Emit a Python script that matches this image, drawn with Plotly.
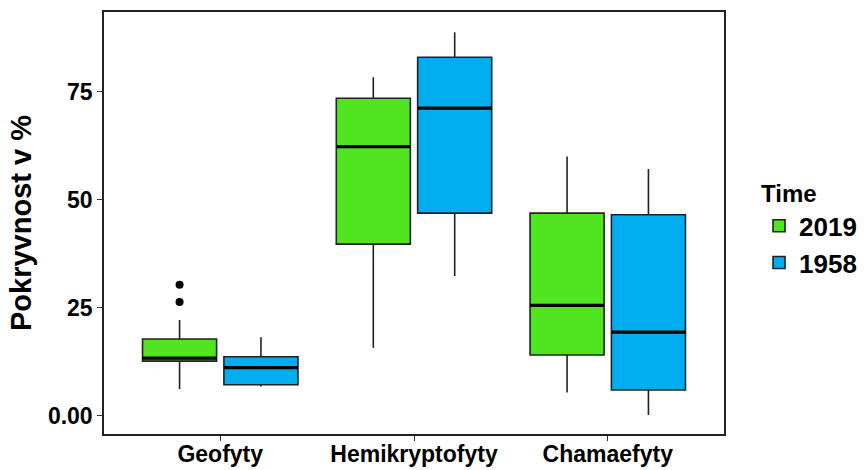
import plotly.graph_objects as go

categories = ["Geofyty", "Hemikryptofyty", "Chamaefyty"]
years = ["2019", "1958"]

# box statistics: [Geofyty, Hemikryptofyty, Chamaefyty]
lower_2019 = [6.1, 15.7, 5.3]
q1_2019 = [12.6, 39.7, 14.0]
median_2019 = [13.3, 62.3, 25.5]
q3_2019 = [17.7, 73.5, 46.9]
upper_2019 = [22.1, 78.4, 60.0]

lower_1958 = [6.7, 32.3, 0.1]
q1_1958 = [7.1, 46.9, 5.9]
median_1958 = [11.1, 71.2, 19.3]
q3_1958 = [13.6, 83.0, 46.5]
upper_1958 = [18.1, 88.8, 57.1]

outlier_cat = ["Geofyty", "Geofyty"]
outlier_vals = [30.3, 26.3]

ytick_vals = [0, 25, 50, 75]
ytick_text = ["0.00", "25", "50", "75"]

colors = {"2019": "#4FE51F", "1958": "#00AEEF"}

BOXGAP = 0.16
BOXGROUPGAP = 0.09

pos = list(range(len(categories)))
FONT = "Liberation Sans, Arial, sans-serif"

fig = go.Figure()
stats = {
    "2019": (lower_2019, q1_2019, median_2019, q3_2019, upper_2019),
    "1958": (lower_1958, q1_1958, median_1958, q3_1958, upper_1958),
}
for yr in years:
    lo, q1, md, q3, up = stats[yr]
    fig.add_trace(go.Box(
        name=yr, x=pos, lowerfence=lo, q1=q1, median=md, q3=q3, upperfence=up,
        fillcolor=colors[yr], line=dict(color="#222222", width=1.6),
        whiskerwidth=0, boxpoints=False, hoverinfo="skip",
        offsetgroup=yr, legendgroup=yr,
    ))
# thicker median lines drawn over the boxes
for yr in years:
    md = stats[yr][2]
    fig.add_trace(go.Box(
        name=yr, x=pos, lowerfence=md, q1=md, median=md, q3=md, upperfence=md,
        fillcolor="rgba(0,0,0,0)", line=dict(color="black", width=3.2),
        whiskerwidth=0, boxpoints=False, hoverinfo="skip",
        offsetgroup=yr, legendgroup=yr, showlegend=False,
    ))

# outliers of the 2019 series, placed at the dodged position of the first box
slot = (1 - BOXGAP) / len(years)
offset = -slot / 2
ox = [categories.index(c) + offset for c in outlier_cat]
fig.add_trace(go.Scatter(
    x=ox, y=outlier_vals, mode="markers", showlegend=False,
    marker=dict(color="black", size=8),
))

fig.update_layout(
    width=864, height=470,
    margin=dict(l=104, r=140, t=12, b=36, autoexpand=False),
    paper_bgcolor="white", plot_bgcolor="white",
    boxmode="group", boxgap=BOXGAP, boxgroupgap=BOXGROUPGAP,
    font=dict(family=FONT, color="black", size=22, weight="bold"),
    legend=dict(
        title=dict(text="Time", font=dict(size=24, weight="bold", family=FONT)),
        xref="container", yref="container",
        x=0.8785, y=0.636, xanchor="left", yanchor="top",
        font=dict(size=26, weight="bold", family=FONT),
        tracegroupgap=0, itemwidth=30,
    ),
)
fig.update_xaxes(
    range=[-0.6, 2.6], tickvals=pos, ticktext=categories,
    showgrid=False, zeroline=False, automargin=False,
    showline=True, linecolor="#222", linewidth=1.5, mirror=True,
    ticks="outside", ticklen=5, tickcolor="#333", tickwidth=1.2,
    ticklabelstandoff=-6,
    tickfont=dict(size=23, weight="bold", family=FONT, color="black"),
)
fig.update_yaxes(
    range=[-4.3, 93.5], tickvals=ytick_vals, ticktext=ytick_text,
    showgrid=False, zeroline=False, automargin=False,
    showline=True, linecolor="#222", linewidth=1.5, mirror=True,
    ticks="outside", ticklen=5, tickcolor="#333", tickwidth=1.2,
    tickfont=dict(size=23, weight="bold", family=FONT, color="black"),
    title=dict(text="Pokryvnost v %", font=dict(size=29, weight="bold", family=FONT), standoff=8),
)

fig.write_html("out.html")
